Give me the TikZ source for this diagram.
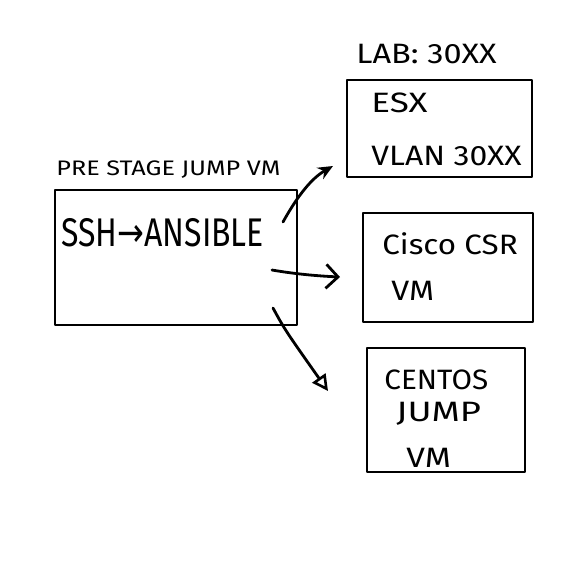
\documentclass[tikz,border=0pt]{standalone}
\usepackage{fontspec}
\setmainfont{Fira Sans}
\newfontfamily\symfont{DejaVu Sans}
\usetikzlibrary{arrows.meta}
\newcommand{\hw}[2]{\scalebox{#1}[1]{#2}}
\begin{document}
\begin{tikzpicture}[x=1pt,y=-1pt,line width=2.8pt,line cap=round,line join=round,
  box/.style={draw,rectangle,inner sep=0pt},
  lbl/.style={inner sep=0pt,anchor=west,text=black,font=\fontsize{28}{28}\selectfont}]
\useasboundingbox (0,0) rectangle (576,574);
% boxes
\node[box,minimum width=242pt,minimum height=135pt] (pre) at (176,257.5) {};
\node[box,minimum width=185pt,minimum height=97pt] (esx) at (439.5,128.5) {};
\node[box,minimum width=170pt,minimum height=109pt] (csr) at (448,267.5) {};
\node[box,minimum width=158pt,minimum height=124pt] (cent) at (446,410) {};
% labels
\node[lbl,font=\fontsize{21}{21}\selectfont] (pretitle) at (55,170) {\hw{1.2}{PRE STAGE JUMP VM}};
\node[lbl,font=\fontsize{40}{40}\selectfont] (ssh) at (60,233) {\hw{0.8}{SSH{\symfont →}ANSIBLE}};
\node[lbl] (lab) at (355,54) {\hw{1.16}{LAB: 30XX}};
\node[lbl] (esxt) at (370,103) {\hw{1.25}{ESX}};
\node[lbl] (vlan) at (370,156) {\hw{1.14}{VLAN 30XX}};
\node[lbl] (cisco) at (381,244) {\hw{1.12}{Cisco CSR}};
\node[lbl] (vm1) at (390,291) {\hw{1.15}{VM}};
\node[lbl] (centos) at (383,380) {\hw{1.06}{CENTOS}};
\node[lbl] (jump) at (395,414) {\hw{1.3}{JUMP}};
\node[lbl] (vm2) at (405,458) {\hw{1.2}{VM}};
% connector ends
\coordinate (a1s) at (283,222);
\coordinate (a1e) at (333,166);
\coordinate (a2s) at (272,270);
\coordinate (a2e) at (340,277);
\coordinate (a3s) at (273,308);
\coordinate (a3e) at (328,391);
\draw[-{Stealth[length=15pt,width=13pt]}] (a1s) .. controls (298,195) and (312,178) .. (a1e);
\draw[-{Straight Barb[length=12pt,width=24pt,line width=2.8pt]}] (a2s) .. controls (295,274) and (318,276) .. (a2e);
\draw[-{Triangle[open,length=16pt,width=16pt,line width=2.6pt]}] (a3s) .. controls (285,330) .. (a3e);
\end{tikzpicture}
\end{document}
